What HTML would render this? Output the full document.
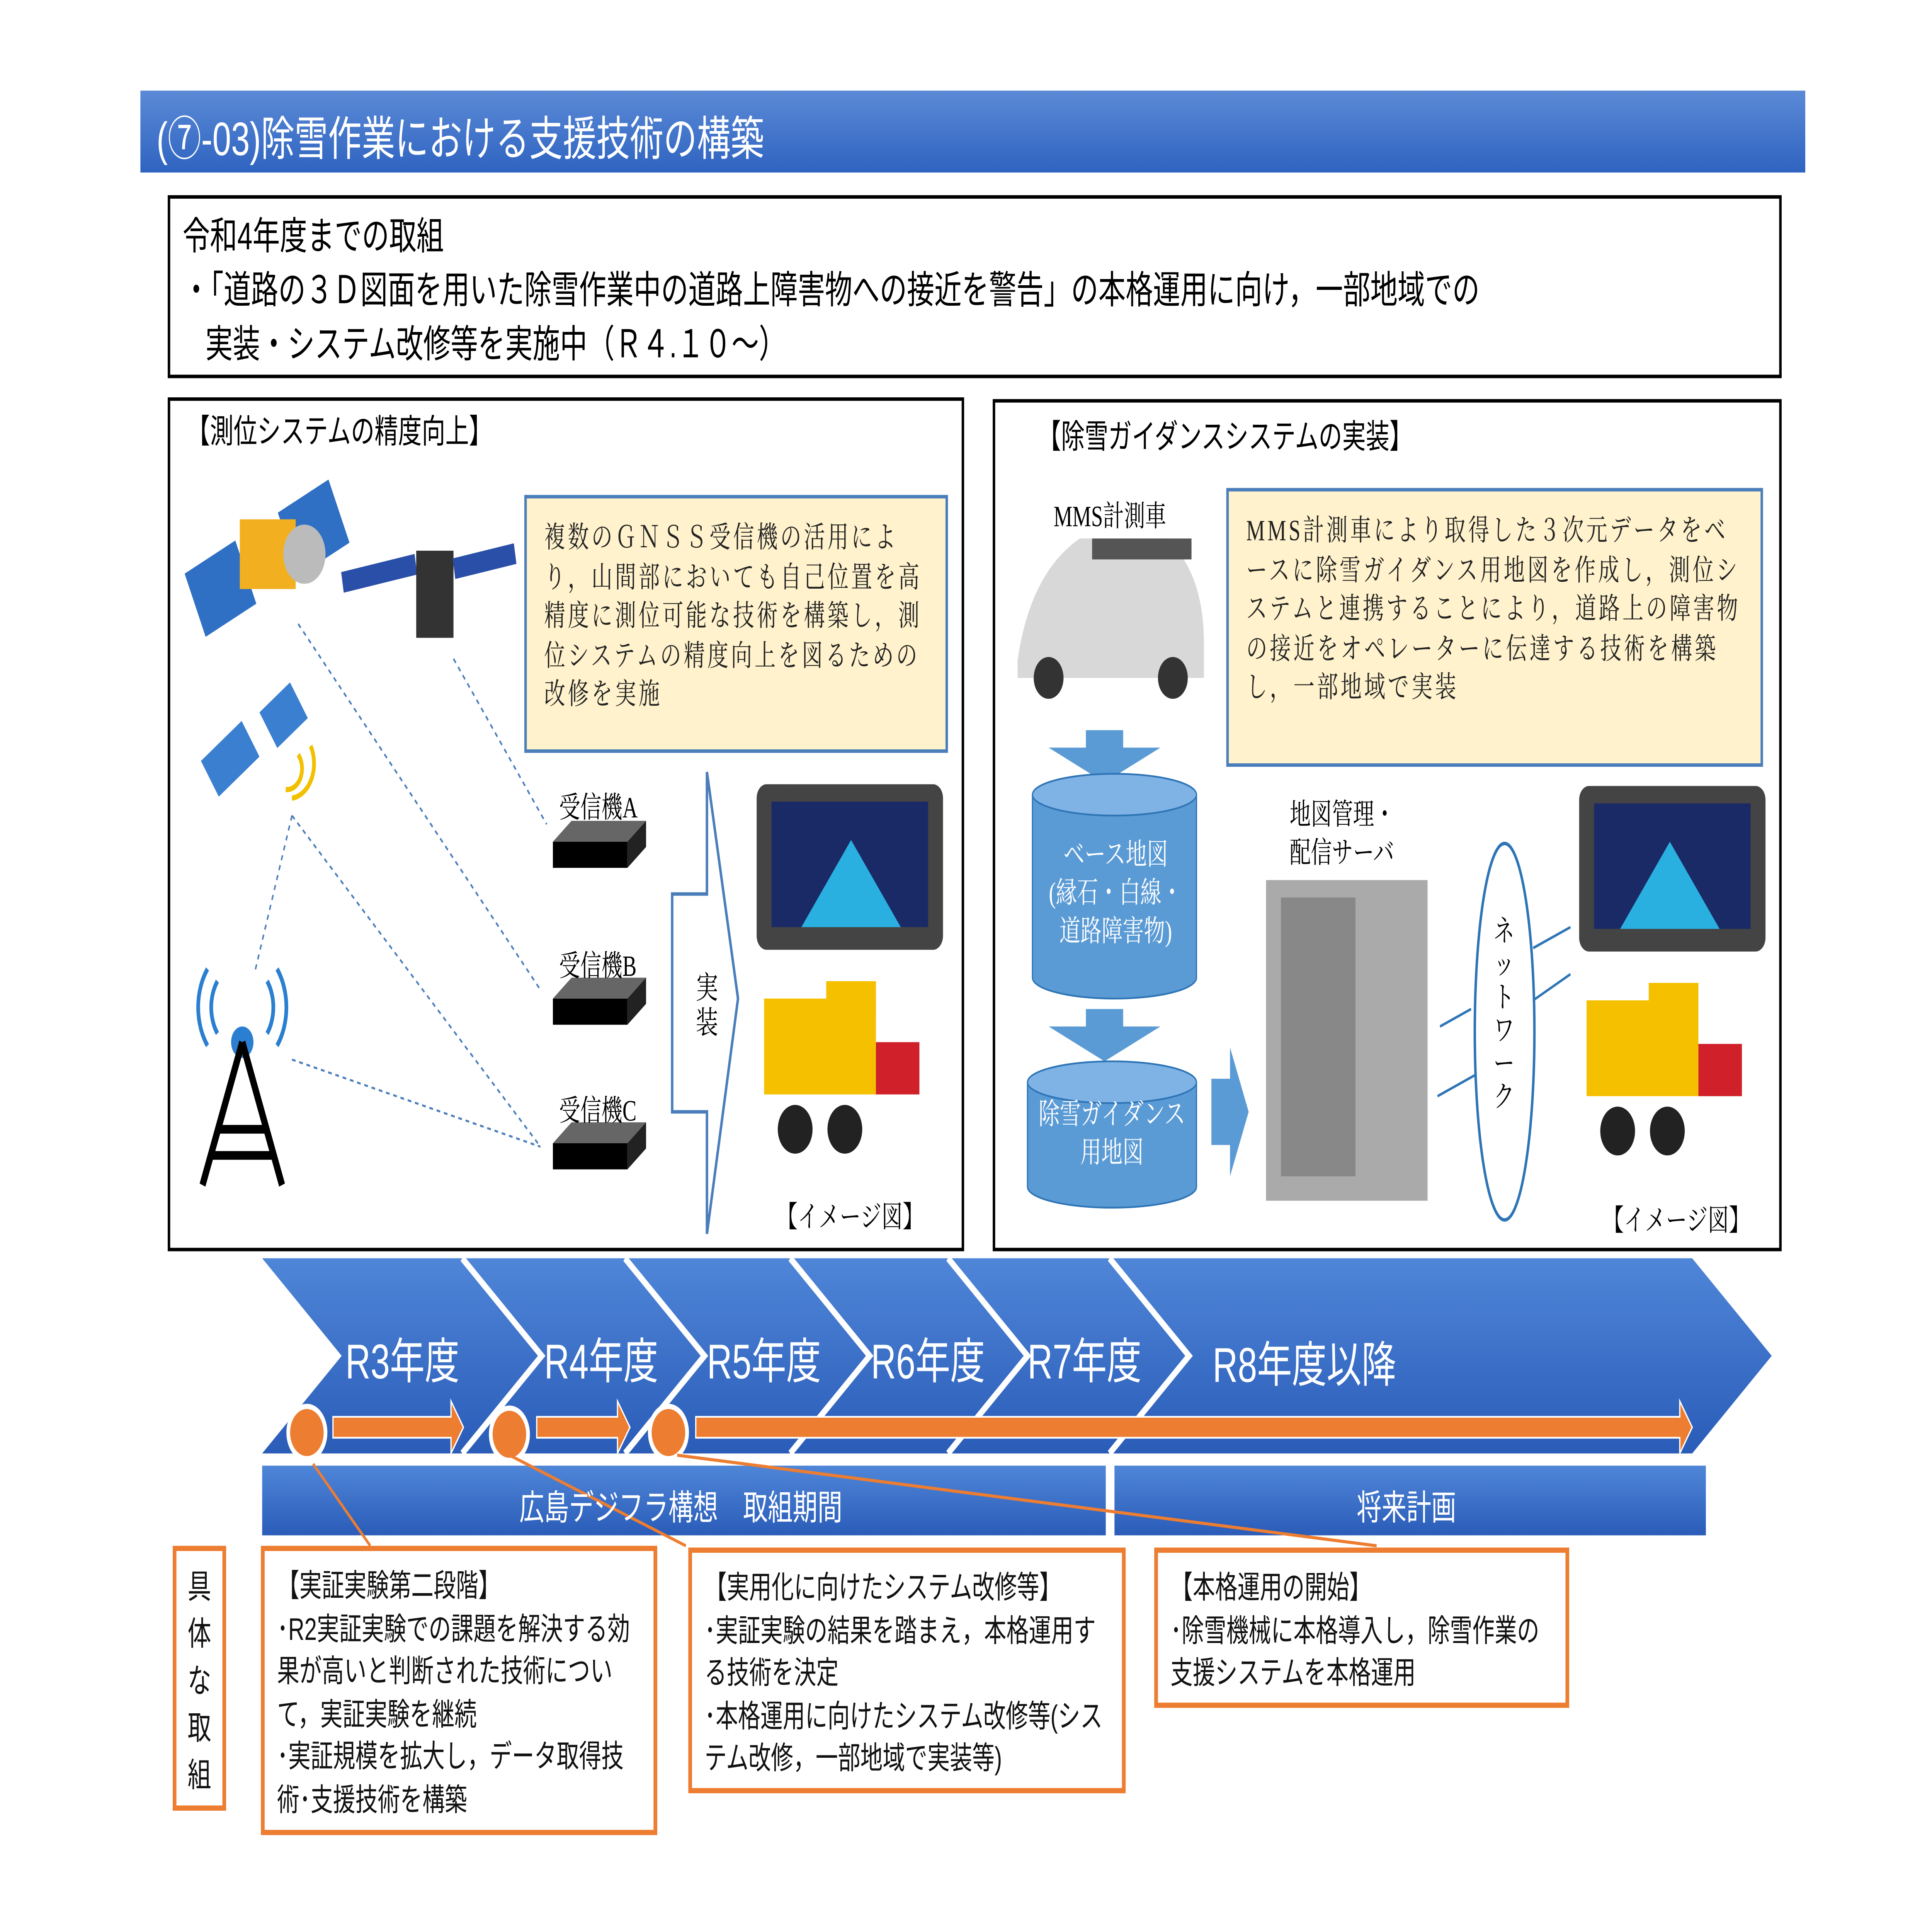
<!DOCTYPE html>
<html><head><meta charset="utf-8"><style>
html,body{margin:0;padding:0;width:100%;height:100%;overflow:hidden;background:#fff;}
#root{position:absolute;left:0;top:0;width:100vw;height:100vh;display:block}
#s{position:relative;width:1555px;height:1100px;font-family:"Liberation Sans","Noto Sans CJK JP",sans-serif;overflow:hidden;background:#fff}
.a{position:absolute}
.serif{font-family:"Liberation Serif","Noto Serif CJK SC",serif}
.box{position:absolute;border:2px solid #000;box-sizing:border-box}
.ob{position:absolute;border:3px solid #ed7d31;box-sizing:border-box;background:#fff;font-size:18px;line-height:24.5px;padding:8px 10px;color:#111}
.y{position:absolute;background:#fff2cc;border:2px solid #4a7ebb;box-sizing:border-box;font-size:17px;letter-spacing:2px;line-height:22.5px;padding:12px 14px;color:#222}
</style></head><body>
<svg id="root" viewBox="0 0 1555 1100" preserveAspectRatio="none" xmlns="http://www.w3.org/2000/svg"><foreignObject x="0" y="0" width="1555" height="1100"><div xmlns="http://www.w3.org/1999/xhtml" id="s">
<div class="a" style="left:113px;top:52px;width:1340px;height:47px;background:linear-gradient(#5b8ad6,#2e63c0);"></div>
<div class="a" style="left:126px;top:58px;font-size:27px;color:#fff;">(⑦-03)除雪作業における支援技術の構築</div>

<div class="box" style="left:135px;top:112px;width:1299px;height:105px;"></div>
<div class="a" style="left:147px;top:120px;font-size:22px;line-height:31px;color:#000;white-space:nowrap">令和4年度までの取組<br/>・「道路の３Ｄ図面を用いた除雪作業中の道路上障害物への接近を警告」の本格運用に向け，一部地域での<br/>&#160;&#160;&#160;実装・システム改修等を実施中（Ｒ４.１０～）</div>

<div class="box" style="left:135px;top:228px;width:641px;height:490px;"></div>
<div class="a" style="left:150px;top:233px;font-size:19px;">【測位システムの精度向上】</div>
<div class="y serif" style="left:422px;top:284px;width:341px;height:148px;">複数のＧＮＳＳ受信機の活用により，山間部においても自己位置を高精度に測位可能な技術を構築し，測位システムの精度向上を図るための改修を実施</div>
<svg class="a" style="left:135px;top:228px" width="641" height="490">
 <g fill="#2f6fc4"><rect x="20" y="90" width="45" height="40" transform="rotate(-25 42 110)"/><rect x="95" y="55" width="45" height="40" transform="rotate(-25 117 75)"/></g>
 <rect x="58" y="70" width="45" height="40" fill="#f2b020"/><circle cx="110" cy="90" r="17" fill="#bbb"/>
 <rect x="140" y="95" width="60" height="12" fill="#2a4fa8" transform="rotate(-10 170 100)"/><rect x="200" y="88" width="30" height="50" fill="#333"/><rect x="230" y="88" width="50" height="12" fill="#2a4fa8" transform="rotate(-10 255 94)"/>
 <rect x="30" y="195" width="40" height="25" fill="#3a7fd0" transform="rotate(-35 50 207)"/><rect x="78" y="170" width="30" height="25" fill="#3a7fd0" transform="rotate(-35 93 182)"/>
 <path d="M95 225a12 12 0 0 0 10-20M100 230a20 20 0 0 0 15-30" stroke="#f2c000" stroke-width="3" fill="none"/>
 <circle cx="60" cy="370" r="9" fill="#2a7fd0"/><path d="M60 370L28 452M60 370L92 452M40 420L80 420M35 435L85 435" stroke="#000" stroke-width="5" fill="none"/>
 <path d="M40 365a25 25 0 0 1 0-30M80 365a25 25 0 0 0 0-30M32 372a36 36 0 0 1 0-44M88 372a36 36 0 0 0 0-44" stroke="#2a7fd0" stroke-width="3" fill="none"/>
 <g stroke="#4a7ebb" stroke-dasharray="3 3" fill="none" stroke-width="1.2">
  <path d="M105 130L300 340M230 150L305 245M100 240L300 430M100 240L70 330M100 380L300 430"/></g>
 <g><path d="M310 255h60l15-12h-60z" fill="#666"/><path d="M310 255h60v15h-60z" fill="#000"/><path d="M370 255l15-12v15l-15 12z" fill="#222"/>
 <path d="M310 345h60l15-12h-60z" fill="#666"/><path d="M310 345h60v15h-60z" fill="#000"/><path d="M370 345l15-12v15l-15 12z" fill="#222"/>
 <path d="M310 428h60l15-12h-60z" fill="#666"/><path d="M310 428h60v15h-60z" fill="#000"/><path d="M370 428l15-12v15l-15 12z" fill="#222"/></g>
 <path d="M406 285h28v-70l25 130-25 135v-70h-28z" fill="#fff" stroke="#4a7ebb" stroke-width="2"/>
 <rect x="474" y="222" width="150" height="95" rx="8" fill="#444"/><rect x="486" y="232" width="126" height="72" fill="#1a2a66"/><path d="M510 304l40-50 40 50z" fill="#2ab0e0"/>
 <rect x="480" y="345" width="90" height="55" fill="#f4c000"/><rect x="570" y="370" width="35" height="30" fill="#d0202a"/><circle cx="505" cy="420" r="14" fill="#222"/><circle cx="545" cy="420" r="14" fill="#222"/><rect x="530" y="335" width="40" height="20" fill="#f4c000"/>
</svg>
<div class="a serif" style="left:450px;top:449px;font-size:17px">受信機A</div>
<div class="a serif" style="left:450px;top:540px;font-size:17px">受信機B</div>
<div class="a serif" style="left:450px;top:623px;font-size:17px">受信機C</div>
<div class="a serif" style="left:560px;top:557px;font-size:18px;width:20px;line-height:20px">実装</div>
<div class="a serif" style="left:625px;top:684px;font-size:17px">【イメージ図】</div>

<div class="box" style="left:799px;top:229px;width:635px;height:489px;"></div>
<div class="a" style="left:835px;top:236px;font-size:19px;">【除雪ガイダンスシステムの実装】</div>
<div class="a serif" style="left:848px;top:282px;font-size:17px">MMS計測車</div>
<div class="y serif" style="left:987px;top:280px;width:432px;height:160px;">MMS計測車により取得した３次元データをベースに除雪ガイダンス用地図を作成し，測位システムと連携することにより，道路上の障害物の接近をオペレーターに伝達する技術を構築し，一部地域で実装</div>
<svg class="a" style="left:799px;top:229px" width="635" height="489">
 <path d="M20 150q10-50 50-70h70q30 20 30 60v20h-150z" fill="#d8d8d8"/><rect x="80" y="80" width="80" height="12" fill="#555"/><circle cx="45" cy="160" r="12" fill="#333"/><circle cx="145" cy="160" r="12" fill="#333"/>
 <path d="M75 190h30v10h30l-45 20-45-20h30z" fill="#5b9bd5"/>
 <path d="M75 350h30v10h30l-45 20-45-20h30z" fill="#5b9bd5"/>
 <path d="M32 227v105a66 12 0 0 0 132 0v-105" fill="#5b9bd5" stroke="#2e75b6"/><ellipse cx="98" cy="227" rx="66" ry="12" fill="#7fb2e5" stroke="#2e75b6"/>
 <path d="M28 392v60a68 12 0 0 0 136 0v-60" fill="#5b9bd5" stroke="#2e75b6"/><ellipse cx="96" cy="392" rx="68" ry="12" fill="#7fb2e5" stroke="#2e75b6"/>
 <path d="M176 390h15v-18l15 37-15 37v-18h-15z" fill="#5b9bd5"/>
 <rect x="220" y="276" width="130" height="184" fill="#aaa"/><rect x="232" y="286" width="60" height="160" fill="#888"/>
 <ellipse cx="412" cy="363" rx="24" ry="108" fill="#fff" stroke="#2e75b6" stroke-width="2"/>
 <path d="M358 400l30-12M360 360l25-10M435 315l30-12M435 345l30-15" stroke="#2e75b6" stroke-width="1.5"/>
 <rect x="472" y="222" width="150" height="95" rx="8" fill="#444"/><rect x="484" y="232" width="126" height="72" fill="#1a2a66"/><path d="M505 304l40-50 40 50z" fill="#2ab0e0"/>
 <rect x="478" y="345" width="90" height="55" fill="#f4c000"/><rect x="568" y="370" width="35" height="30" fill="#d0202a"/><circle cx="503" cy="420" r="14" fill="#222"/><circle cx="543" cy="420" r="14" fill="#222"/><rect x="528" y="335" width="40" height="20" fill="#f4c000"/>
</svg>
<div class="a serif" style="left:832px;top:480px;width:132px;text-align:center;font-size:17px;line-height:22px;color:#fff">ベース地図<br/>(縁石・白線・<br/>道路障害物)</div>
<div class="a serif" style="left:827px;top:629px;width:136px;text-align:center;font-size:17px;line-height:22px;color:#fff">除雪ガイダンス<br/>用地図</div>
<div class="a serif" style="left:1038px;top:457px;font-size:17px;line-height:22px">地図管理・<br/>配信サーバ</div>
<div class="a serif" style="left:1202px;top:525px;font-size:17px;width:20px;line-height:19px">ネットワーク</div>
<div class="a serif" style="left:1290px;top:686px;font-size:17px">【イメージ図】</div>

<svg class="a" style="left:0;top:0" width="1555" height="1100">
 <defs><linearGradient id="g" x1="0" y1="0" x2="0" y2="1"><stop offset="0" stop-color="#4f86d8"/><stop offset="1" stop-color="#2a5cb8"/></linearGradient></defs>
 <path d="M211 722h1151l64 56-64 56H211l64-56z" fill="url(#g)"/>
 <g stroke="#fff" stroke-width="4" fill="none"><path d="M372 722l64 56-64 56M503 722l64 56-64 56M636 722l64 56-64 56M763 722l64 56-64 56M893 722l64 56-64 56"/></g>
 <path d="M268 813h95v-9l10 15-10 15v-9h-95z" fill="#ed7d31" stroke="#fff"/>
 <path d="M432 813h65v-9l10 15-10 15v-9h-65z" fill="#ed7d31" stroke="#fff"/>
 <path d="M560 813h792v-9l10 15-10 15v-9h-792z" fill="#ed7d31" stroke="#fff"/>
 <g fill="#ed7d31" stroke="#fff" stroke-width="3"><circle cx="247" cy="822" r="15"/><circle cx="410" cy="823" r="15"/><circle cx="538" cy="822" r="15"/></g>
 <rect x="211" y="841" width="679" height="40" fill="url(#g)"/><rect x="897" y="841" width="476" height="40" fill="url(#g)"/>
 <path d="M252 840L298 887M410 835L552 887M545 835L1108 887" stroke="#ed7d31" stroke-width="1.8"/>
</svg>
<div class="a" style="left:278px;top:760px;font-size:28px;color:#fff">R3年度</div>
<div class="a" style="left:438px;top:760px;font-size:28px;color:#fff">R4年度</div>
<div class="a" style="left:569px;top:760px;font-size:28px;color:#fff">R5年度</div>
<div class="a" style="left:701px;top:760px;font-size:28px;color:#fff">R6年度</div>
<div class="a" style="left:827px;top:760px;font-size:28px;color:#fff">R7年度</div>
<div class="a" style="left:976px;top:762px;font-size:28px;color:#fff">R8年度以降</div>
<div class="a" style="left:418px;top:849px;font-size:20px;color:#fff">広島デジフラ構想　取組期間</div>
<div class="a" style="left:1092px;top:849px;font-size:20px;color:#fff">将来計画</div>

<div class="ob" style="left:139px;top:887px;width:43px;height:152px;padding:8px 9px;font-size:19px;line-height:27px">具体な取組</div>
<div class="ob" style="left:210px;top:887px;width:319px;height:166px;">【実証実験第二段階】<br/>･R2実証実験での課題を解決する効果が高いと判断された技術について，実証実験を継続<br/>･実証規模を拡大し，データ取得技術･支援技術を構築</div>
<div class="ob" style="left:554px;top:888px;width:352px;height:141px;">【実用化に向けたシステム改修等】<br/>･実証実験の結果を踏まえ，本格運用する技術を決定<br/>･本格運用に向けたシステム改修等(システム改修，一部地域で実装等)</div>
<div class="ob" style="left:929px;top:888px;width:334px;height:92px;">【本格運用の開始】<br/>･除雪機械に本格導入し，除雪作業の支援システムを本格運用</div>
</div></foreignObject></svg>
</body></html>
